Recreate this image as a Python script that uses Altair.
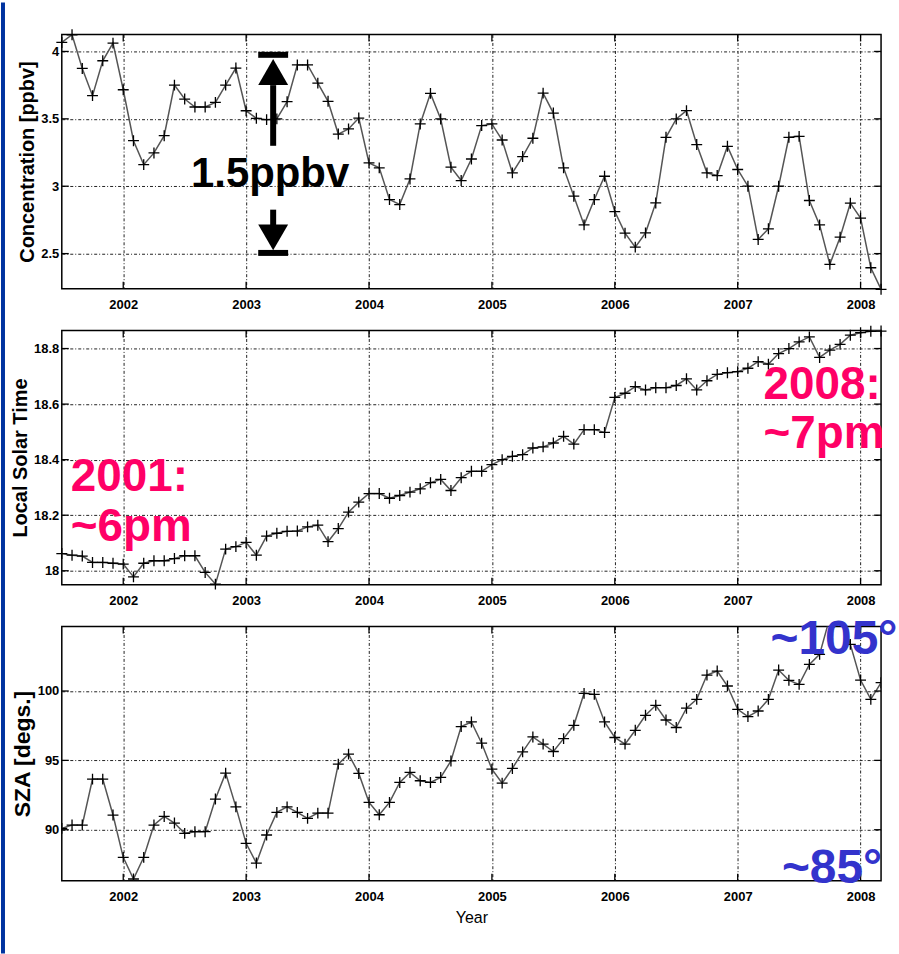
import altair as alt
import pandas as pd

# ---------------- data ----------------
start_year = 2001.5
n_months = 81
months = [start_year + i / 12 for i in range(n_months)]

conc = [4.067, 4.124, 3.874, 3.672, 3.931, 4.062, 3.716, 3.338, 3.16, 3.247, 3.375, 3.75,
        3.647, 3.588, 3.588, 3.622, 3.75, 3.877, 3.56, 3.504, 3.494, 3.5, 3.627,
        3.9, 3.9, 3.765, 3.63, 3.387, 3.425, 3.506, 3.173, 3.136, 2.901, 2.864, 3.054,
        3.462, 3.689, 3.499, 3.141, 3.042, 3.202, 3.45, 3.462, 3.343, 3.099, 3.22, 3.356,
        3.691, 3.543, 3.136, 2.926, 2.713,
        2.901, 3.074, 2.812, 2.652, 2.548, 2.654, 2.876, 3.363, 3.499, 3.561, 3.309, 3.099,
        3.079, 3.296, 3.124, 3.0, 2.605, 2.684, 3.0, 3.363, 3.37, 2.894, 2.713, 2.42,
        2.622, 2.874, 2.763, 2.395, 2.235]

lst = [18.062, 18.056, 18.053, 18.03, 18.03, 18.027, 18.024, 17.978, 18.027, 18.036, 18.036,
       18.044, 18.054, 18.054, 17.994, 17.952, 18.078, 18.087, 18.102, 18.056, 18.125, 18.135,
       18.142,
       18.143, 18.158, 18.164, 18.105, 18.152, 18.211, 18.247, 18.278, 18.278, 18.261, 18.271,
       18.283, 18.295, 18.317, 18.329, 18.289, 18.335, 18.358, 18.358, 18.382, 18.4, 18.412,
       18.418, 18.442, 18.446, 18.46, 18.484, 18.456, 18.508,
       18.508, 18.498, 18.624, 18.639, 18.663, 18.651, 18.659, 18.659, 18.667, 18.691, 18.651,
       18.684, 18.707, 18.713, 18.717, 18.729, 18.753, 18.744, 18.782, 18.8, 18.824, 18.842,
       18.768, 18.794, 18.815, 18.848, 18.857, 18.862, 18.863]

sza = [90.1, 90.34, 90.34, 93.65, 93.65, 91.06, 88.01, 86.45, 88.01, 90.34, 90.96, 90.48,
       89.74, 89.86, 89.86, 92.21, 94.08, 91.65, 89.02, 87.6, 89.62, 91.25, 91.65,
       91.25, 90.82, 91.2, 91.2, 94.73, 95.45, 94.06, 91.97, 91.08, 91.97, 93.41, 94.13,
       93.53, 93.41, 93.77, 94.96, 97.44, 97.77, 96.24, 94.37, 93.36, 94.42, 95.61, 96.69,
       96.17, 95.64, 96.57, 97.53, 99.83,
       99.76, 97.77, 96.65, 96.17, 97.17, 98.25, 98.97, 97.91, 97.37, 98.76, 99.4, 101.15,
       101.44, 100.36, 98.68, 98.16, 98.56, 99.4, 101.51, 100.77, 100.48, 101.92, 102.64,
       105.3, 105.6, 103.36, 100.79, 99.4, 100.6]

years = [2002, 2003, 2004, 2005, 2006, 2007, 2008]
conc_ticks = [2.5, 3, 3.5, 4]
lst_ticks = [18, 18.2, 18.4, 18.6, 18.8]
sza_ticks = [90, 95, 100]

df = pd.DataFrame({"t": months, "conc": conc, "lst": lst, "sza": sza})

# ---------------- styling ----------------
W, H = 822, 255
X_DOMAIN = [2001.5, 2008.1667]
FONT = "Liberation Sans"
PINK = "#FF0066"
BLUE = "#3333CC"
GRID_DASH = [3, 2, 1, 2]
CROSS = "M-1,0L1,0M0,-1L0,1"

xscale = alt.Scale(domain=X_DOMAIN, nice=False, zero=False)


def x_axis(title=None):
    kw = dict(values=years, format="d", grid=True, gridDash=GRID_DASH, gridColor="#222",
              gridWidth=1, gridOpacity=1, ticks=False, domain=False, labelPadding=10,
              labelFont=FONT, labelFontSize=13, labelFontWeight="bold",
              labelColor="black", labelFlush=False)
    if title:
        kw.update(title=title, titleFont=FONT, titleFontSize=16,
                  titleFontWeight="normal", titleColor="black", titlePadding=6)
    else:
        kw.update(title=None)
    return alt.Axis(**kw)


def y_axis(values, title, tsize):
    return alt.Axis(values=values, format="~r", grid=True, gridDash=GRID_DASH, gridColor="#222",
                    gridWidth=1, gridOpacity=1, ticks=False, domain=False, labelPadding=3,
                    labelFont=FONT, labelFontSize=13, labelFontWeight="bold",
                    labelColor="black", title=title, titleFont=FONT,
                    titleFontSize=tsize, titleFontWeight="bold", titleColor="black",
                    titlePadding=3)


class Panel:
    def __init__(self, yscale, ticks, title, tsize, xtitle=None):
        self.yscale = yscale
        self.xax = x_axis(xtitle)
        self.yax = y_axis(ticks, title, tsize)

    def X(self, field):
        return alt.X(f"{field}:Q", scale=xscale, axis=self.xax)

    def Y(self, field):
        return alt.Y(f"{field}:Q", scale=self.yscale, axis=self.yax)


def panel_layers(P, field, ticks, clip=False):
    base = alt.Chart(df)
    line = base.mark_line(color="#555555", strokeWidth=1.5, clip=clip).encode(
        x=P.X("t"), y=P.Y(field))
    pts = base.mark_point(shape=CROSS, size=120, filled=False, color="black",
                          strokeWidth=1.3, opacity=1, clip=clip).encode(
        x=P.X("t"), y=P.Y(field))
    ydf = pd.DataFrame({"t": years})
    vdf = pd.DataFrame({field: ticks})
    tick_top = alt.Chart(ydf).mark_rule(color="black", strokeWidth=1.3).encode(
        x=P.X("t"), y=alt.value(0), y2=alt.value(7))
    tick_bot = alt.Chart(ydf).mark_rule(color="black", strokeWidth=1.3).encode(
        x=P.X("t"), y=alt.value(H - 7), y2=alt.value(H))
    tick_l = alt.Chart(vdf).mark_rule(color="black", strokeWidth=1.3).encode(
        y=P.Y(field), x=alt.value(0), x2=alt.value(7))
    tick_r = alt.Chart(vdf).mark_rule(color="black", strokeWidth=1.3).encode(
        y=P.Y(field), x=alt.value(W - 7), x2=alt.value(W))
    return [line, tick_top, tick_bot, tick_l, tick_r, pts]


def text_layer(P, field, rows, color, size):
    tdf = pd.DataFrame(rows, columns=["t", field, "label"])
    return alt.Chart(tdf).mark_text(align="left", baseline="alphabetic", font=FONT,
                                    fontSize=size, fontWeight="bold", color=color).encode(
        x=P.X("t"), y=P.Y(field), text="label:N")


# ---------------- panel 1 ----------------
ys1 = alt.Scale(domain=[2.24, 4.126], nice=False, zero=False)
P1 = Panel(ys1, conc_ticks, "Concentration [ppbv]", 20)
p1_layers = panel_layers(P1, "conc", conc_ticks)

ARROW_X = 2003.22
arrow_top, arrow_bot = 3.975, 2.505
bars = alt.Chart(pd.DataFrame({"t": [ARROW_X, ARROW_X], "conc": [arrow_top, arrow_bot]})).mark_tick(
    orient="horizontal", size=30, thickness=6, color="black", opacity=1).encode(
    x=P1.X("t"), y=P1.Y("conc"))
tri_up = alt.Chart(pd.DataFrame({"t": [ARROW_X], "conc": [3.848]})).mark_point(
    shape="triangle-up", size=900, filled=True, color="black", opacity=1).encode(
    x=P1.X("t"), y=P1.Y("conc"))
tri_dn = alt.Chart(pd.DataFrame({"t": [ARROW_X], "conc": [2.62]})).mark_point(
    shape="triangle-down", size=900, filled=True, color="black", opacity=1).encode(
    x=P1.X("t"), y=P1.Y("conc"))
stems = alt.Chart(pd.DataFrame({"t": [ARROW_X, ARROW_X], "conc": [3.75, 2.826],
                                "c2": [3.30, 2.70]})).mark_rule(
    strokeWidth=6, color="black").encode(
    x=P1.X("t"), y=P1.Y("conc"), y2="c2:Q")
label15 = alt.Chart(pd.DataFrame({"t": [2003.195], "conc": [2.993], "label": ["1.5ppbv"]})).mark_text(
    align="center", baseline="alphabetic", font=FONT, fontSize=42, fontWeight="bold",
    color="black").encode(
    x=P1.X("t"), y=P1.Y("conc"), text="label:N")

p1 = alt.layer(*p1_layers, stems, bars, tri_up, tri_dn, label15).properties(width=W, height=H)

# ---------------- panel 2 ----------------
ys2 = alt.Scale(domain=[17.95, 18.865], nice=False, zero=False)
P2 = Panel(ys2, lst_ticks, "Local Solar Time", 20)
p2_layers = panel_layers(P2, "lst", lst_ticks)
t2 = text_layer(P2, "lst", [(2001.573, 18.287, "2001:"), (2001.573, 18.108, "~6pm"),
                            (2007.21, 18.62, "2008:"), (2007.21, 18.441, "~7pm")], PINK, 46)
p2 = alt.layer(*p2_layers, t2).properties(width=W, height=H)

# ---------------- panel 3 ----------------
ys3 = alt.Scale(domain=[86.33, 104.65], nice=False, zero=False)
P3 = Panel(ys3, sza_ticks, "SZA [degs.]", 23, xtitle="Year")
p3_layers = panel_layers(P3, "sza", sza_ticks, clip=True)
t3 = text_layer(P3, "sza", [(2007.267, 102.64, "~105°"), (2007.36, 86.15, "~85°")], BLUE, 48)
p3 = alt.layer(*p3_layers, t3).properties(width=W, height=H)

panels = alt.vconcat(p1, p2, p3, spacing=42, bounds="flush")

# left blue strip of the slide
strip = alt.Chart(pd.DataFrame({"k": [0]})).mark_rect(color="#0033A0").encode(
    x=alt.value(0), x2=alt.value(4), y=alt.value(-32), y2=alt.value(922)
).properties(width=4, height=H, view=alt.ViewBackground(stroke="transparent"))

chart = alt.hconcat(strip, panels, spacing=57, bounds="flush").properties(
    padding={"left": 0, "top": 0, "right": 0, "bottom": 0},
    background="white",
).configure_view(stroke="black", strokeWidth=1.5)

chart.save("out.html", embed_options={"renderer": "svg", "actions": False})
